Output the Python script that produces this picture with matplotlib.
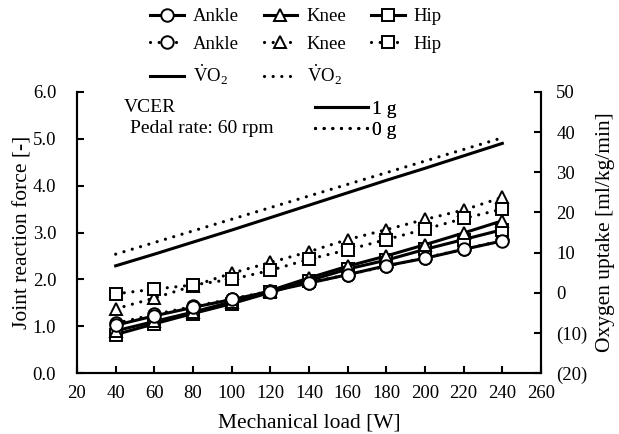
import matplotlib
matplotlib.use("Agg")
import matplotlib.pyplot as plt
from matplotlib.lines import Line2D
from matplotlib.ticker import FuncFormatter, MultipleLocator

plt.rcParams['font.family'] = ['Liberation Serif', 'DejaVu Serif']
plt.rcParams['mathtext.fontset'] = 'custom'
plt.rcParams['mathtext.rm'] = 'Liberation Serif'
plt.rcParams['mathtext.it'] = 'Liberation Serif:italic'

# ---- data ----
load = [40, 60, 80, 100, 120, 140, 160, 180, 200, 220, 240]
ankle_1g = [1.02, 1.22, 1.40, 1.57, 1.74, 1.92, 2.10, 2.29, 2.45, 2.64, 2.82]
knee_1g = [0.90, 1.10, 1.30, 1.52, 1.76, 2.03, 2.28, 2.50, 2.74, 2.99, 3.25]
hip_1g = [0.82, 1.05, 1.27, 1.48, 1.72, 1.97, 2.22, 2.41, 2.64, 2.85, 3.06]
ankle_0g = [1.06, 1.25, 1.42, 1.58, 1.75, 1.93, 2.10, 2.28, 2.46, 2.64, 2.83]
knee_0g = [1.37, 1.60, 1.86, 2.13, 2.36, 2.59, 2.85, 3.06, 3.28, 3.48, 3.75]
hip_0g = [1.69, 1.79, 1.88, 2.00, 2.19, 2.43, 2.63, 2.85, 3.07, 3.30, 3.50]
vo2_1g = [6.7, 9.6, 12.6, 15.6, 18.7, 21.8, 24.9, 28.0, 31.0, 34.1, 37.2]
vo2_0g = [9.6, 12.5, 15.4, 18.3, 21.2, 24.1, 27.0, 29.9, 32.8, 35.7, 38.6]

W, H = 619, 434
fig = plt.figure(figsize=(W/100, H/100), dpi=100)
L, R, T, B = 77, 541, 92, 373
ax = fig.add_axes([L/W, 1-B/H, (R-L)/W, (B-T)/H])
ax2 = ax.twinx()

DOT = (0, (0.01, 2.7))
mk = dict(markersize=9, markerfacecolor='white', markeredgecolor='black', markeredgewidth=1.4)
dl = dict(color='black', lw=2.3, linestyle=DOT, dash_capstyle='round')

# VO2 lines (right axis)
l_v0, = ax2.plot(load, vo2_0g, **dl)
l_v1, = ax2.plot(load, vo2_1g, color='black', lw=2.2)

# joint reaction forces (left axis)
ax.set_zorder(ax2.get_zorder() + 1)
ax.patch.set_visible(False)
l_a0, = ax.plot(load, ankle_0g, marker='o', **dl, **mk)
l_k0, = ax.plot(load, knee_0g, marker='^', **dl, **mk)
l_h0, = ax.plot(load, hip_0g, marker='s', **dl, **mk)
l_h1, = ax.plot(load, hip_1g, color='black', lw=2.2, marker='s', **mk)
l_k1, = ax.plot(load, knee_1g, color='black', lw=2.2, marker='^', **mk)
l_a1, = ax.plot(load, ankle_1g, color='black', lw=2.2, marker='o', **mk)

ax.set_xlim(20, 260)
ax.set_ylim(0, 6)
ax2.set_ylim(-20, 50)
ax.xaxis.set_major_locator(MultipleLocator(20))
ax.yaxis.set_major_locator(MultipleLocator(1))
ax2.yaxis.set_major_locator(MultipleLocator(10))
ax.yaxis.set_major_formatter(FuncFormatter(lambda v, p: f"{v:.1f}"))
ax2.yaxis.set_major_formatter(FuncFormatter(lambda v, p: f"({abs(int(round(v)))})" if v < 0 else f"{int(round(v))}"))

for a in (ax, ax2):
    for s in a.spines.values():
        s.set_linewidth(1.5)
    a.spines['top'].set_visible(False)
ax.tick_params(axis='x', direction='in', length=5, width=1.5, labelsize=13.5, pad=9)
ax.tick_params(axis='y', direction='in', length=5, width=1.5, labelsize=13.5, pad=15)
ax2.tick_params(direction='in', length=5, width=1.5, labelsize=13.5, pad=11)

ax.set_xlabel("Mechanical load [W]", fontsize=15.5, labelpad=8)
ax.set_ylabel("Joint reaction force [-]", fontsize=15.5, labelpad=0)
ax2.set_ylabel("Oxygen uptake [ml/kg/min]", fontsize=15.5, labelpad=6)

ax.text(0.1, 0.945, "VCER", transform=ax.transAxes, fontsize=14, va='center', ha='left')
ax.text(0.115, 0.87, "Pedal rate: 60 rpm", transform=ax.transAxes, fontsize=14, va='center', ha='left')

# inner legend (1 g / 0 g)
h1 = Line2D([], [], color='black', lw=2.2)
h0 = Line2D([], [], **dl)
leg_in = ax.legend([h1, h0], ["1 g", "0 g"], loc='upper left', bbox_to_anchor=((315-L)/(R-L), (B-100)/(B-T)),
                   frameon=False, fontsize=14, handlelength=2.7, handletextpad=0.25,
                   borderpad=0, labelspacing=0.2, borderaxespad=0)
ax.add_artist(leg_in)

# top legend
vo2 = r'$\dot{\mathrm{V}}\mathrm{O}_2$'
handles = [l_a1, l_a0, l_v1, l_k1, l_k0, l_v0, l_h1, l_h0]
labels = ["Ankle", "Ankle", vo2, "Knee", "Knee", vo2, "Hip", "Hip"]
fig.legend(handles, labels, ncol=3, loc='upper left', bbox_to_anchor=(150/W, 1 - 8/H),
           frameon=False, fontsize=13.5, handlelength=1.8, handletextpad=0.5,
           columnspacing=1.3, labelspacing=0.56, borderpad=0, borderaxespad=0)

fig.savefig("out.png", dpi=100)
